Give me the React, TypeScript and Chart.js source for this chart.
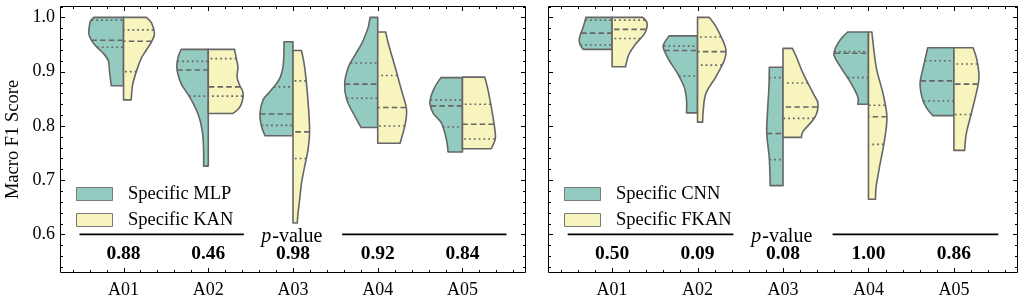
import React, { useEffect, useRef } from 'react';
import { Chart, registerables } from 'chart.js';

Chart.register(...registerables);

// ---------- data ----------
const categories = ['A01', 'A02', 'A03', 'A04', 'A05'];
const yTickValues = [0.6, 0.7, 0.8, 0.9, 1.0];
const yTitle = 'Macro F1 Score';
const pValueLabel = '-value';

// quartiles [q1, median, q3]
const mlpQuartiles = [[0.945, 0.958, 0.995], [0.855, 0.903, 0.919], [0.801, 0.822, 0.872], [0.851, 0.877, 0.916], [0.798, 0.837, 0.848]];
const kanQuartiles = [[0.900, 0.956, 0.977], [0.855, 0.872, 0.924], [0.740, 0.789, 0.883], [0.800, 0.834, 0.893], [0.776, 0.803, 0.840]];
const cnnQuartiles = [[0.949, 0.971, 0.995], [0.892, 0.939, 0.947], [0.738, 0.786, 0.889], [0.889, 0.934, 0.937], [0.846, 0.883, 0.920]];
const fkanQuartiles = [[0.961, 0.978, 0.995], [0.912, 0.937, 0.964], [0.814, 0.835, 0.879], [0.766, 0.817, 0.838], [0.821, 0.877, 0.914]];

// density profiles: [score, scaled density] from max score down to min score
const mlpDensity = [
  [[1.0, 0.35], [0.993, 0.39], [0.982, 0.405], [0.97, 0.41], [0.958, 0.38], [0.946, 0.32], [0.935, 0.245], [0.92, 0.18], [0.9, 0.165], [0.874, 0.145]],
  [[0.941, 0.32], [0.93, 0.35], [0.915, 0.37], [0.9, 0.365], [0.878, 0.32], [0.848, 0.2], [0.817, 0.11], [0.786, 0.067], [0.755, 0.055], [0.726, 0.055]],
  [[0.955, 0.106], [0.93, 0.108], [0.909, 0.118], [0.89, 0.15], [0.878, 0.196], [0.86, 0.29], [0.848, 0.353], [0.823, 0.39], [0.798, 0.37], [0.782, 0.33]],
  [[1.0, 0.09], [0.983, 0.11], [0.97, 0.14], [0.952, 0.188], [0.93, 0.27], [0.909, 0.345], [0.878, 0.39], [0.848, 0.365], [0.817, 0.267], [0.797, 0.196]],
  [[0.889, 0.255], [0.872, 0.325], [0.855, 0.37], [0.841, 0.384], [0.823, 0.345], [0.805, 0.247], [0.774, 0.188], [0.752, 0.169]],
];
const kanDensity = [
  [[1.0, 0.27], [0.99, 0.33], [0.97, 0.365], [0.955, 0.33], [0.94, 0.27], [0.925, 0.21], [0.909, 0.17], [0.878, 0.11], [0.848, 0.09]],
  [[0.941, 0.31], [0.925, 0.33], [0.909, 0.35], [0.89, 0.34], [0.875, 0.37], [0.862, 0.41], [0.845, 0.4], [0.832, 0.36], [0.823, 0.29]],
  [[0.939, 0.1], [0.909, 0.137], [0.848, 0.176], [0.79, 0.196], [0.755, 0.176], [0.725, 0.137], [0.694, 0.1], [0.663, 0.078], [0.639, 0.059], [0.621, 0.05]],
  [[0.973, 0.094], [0.952, 0.125], [0.909, 0.204], [0.866, 0.28], [0.83, 0.34], [0.8, 0.32], [0.768, 0.263]],
  [[0.89, 0.263], [0.866, 0.302], [0.817, 0.36], [0.78, 0.39], [0.765, 0.36], [0.758, 0.34]],
];
const cnnDensity = [
  [[1.0, 0.306], [0.983, 0.337], [0.961, 0.384], [0.949, 0.372], [0.941, 0.337]],
  [[0.966, 0.333], [0.952, 0.392], [0.943, 0.4], [0.921, 0.333], [0.897, 0.235], [0.872, 0.157], [0.848, 0.129], [0.824, 0.129]],
  [[0.908, 0.16], [0.87, 0.165], [0.83, 0.18], [0.786, 0.19], [0.74, 0.16], [0.69, 0.15]],
  [[0.973, 0.243], [0.958, 0.333], [0.937, 0.4], [0.922, 0.38], [0.884, 0.224], [0.854, 0.125], [0.84, 0.125]],
  [[0.944, 0.306], [0.909, 0.357], [0.878, 0.396], [0.848, 0.365], [0.83, 0.306], [0.819, 0.247]],
];
const fkanDensity = [
  [[1.0, 0.36], [0.989, 0.41], [0.97, 0.38], [0.952, 0.28], [0.933, 0.2], [0.915, 0.165], [0.909, 0.157]],
  [[1.0, 0.137], [0.983, 0.216], [0.958, 0.294], [0.94, 0.333], [0.921, 0.314], [0.891, 0.216], [0.86, 0.098], [0.829, 0.067], [0.807, 0.059]],
  [[0.943, 0.11], [0.927, 0.157], [0.897, 0.235], [0.86, 0.353], [0.841, 0.41], [0.816, 0.373], [0.79, 0.235], [0.779, 0.216]],
  [[0.973, 0.04], [0.909, 0.09], [0.86, 0.17], [0.817, 0.216], [0.774, 0.188], [0.725, 0.13], [0.688, 0.09], [0.665, 0.082]],
  [[0.944, 0.224], [0.921, 0.27], [0.89, 0.294], [0.866, 0.27], [0.823, 0.204], [0.786, 0.145], [0.755, 0.125]],
];

const leftPValues = ['0.88', '0.46', '0.98', '0.92', '0.84'];
const rightPValues = ['0.50', '0.09', '0.08', '1.00', '0.86'];
const leftNames = ['Specific MLP', 'Specific KAN'];
const rightNames = ['Specific CNN', 'Specific FKAN'];

// ---------- styles ----------
const FONT = "'Liberation Serif', 'Times New Roman', serif";
const COLORS = ['#93CBC0', '#F7F5BD'];
const EDGE = '#666666';
const X_MIN = -0.75, X_MAX = 4.75, Y_MIN = 0.529, Y_MAX = 1.021;

type Prof = number[][];
interface PanelSpec {
  names: string[];
  quartiles: number[][][];
  density: Prof[][];
  pValues: string[];
  showY: boolean;
  padLeft: number;
  padRight: number;
}

const panels: PanelSpec[] = [
  { names: leftNames, quartiles: [mlpQuartiles, kanQuartiles], density: [mlpDensity, kanDensity], pValues: leftPValues, showY: true, padLeft: 0, padRight: 11 },
  { names: rightNames, quartiles: [cnnQuartiles, fkanQuartiles], density: [cnnDensity, fkanDensity], pValues: rightPValues, showY: false, padLeft: 11, padRight: 7 },
];

function widthAt(prof: Prof, v: number): number {
  for (let i = 0; i < prof.length - 1; i++) {
    const [a, wa] = prof[i];
    const [b, wb] = prof[i + 1];
    if (v <= a && v >= b) {
      const t = a === b ? 0 : (a - v) / (a - b);
      return wa + (wb - wa) * t;
    }
  }
  return v > prof[0][0] ? prof[0][1] : prof[prof.length - 1][1];
}

function splineThrough(ctx: CanvasRenderingContext2D, pts: { x: number; y: number }[]) {
  for (let i = 0; i < pts.length - 1; i++) {
    const p0 = pts[Math.max(0, i - 1)];
    const p1 = pts[i];
    const p2 = pts[i + 1];
    const p3 = pts[Math.min(pts.length - 1, i + 2)];
    const c1x = p1.x + (p2.x - p0.x) / 6;
    const c1y = p1.y + (p2.y - p0.y) / 6;
    const c2x = p2.x - (p3.x - p1.x) / 6;
    const c2y = p2.y - (p3.y - p1.y) / 6;
    ctx.bezierCurveTo(c1x, c1y, c2x, c2y, p2.x, p2.y);
  }
}

function makePlugin(p: PanelSpec) {
  return {
    id: 'violinPlugin',
    afterDraw(chart: any) {
      const ctx: CanvasRenderingContext2D = chart.ctx;
      const xs = chart.scales.x;
      const ys = chart.scales.y;
      const area = chart.chartArea;
      ctx.save();

      // violins
      p.density.forEach((series, si) => {
        const side = si === 0 ? -1 : 1;
        series.forEach((prof, ci) => {
          const cx = xs.getPixelForValue(ci);
          const pts = prof.map(([v, d]) => ({ x: xs.getPixelForValue(ci + side * d), y: ys.getPixelForValue(v) }));
          ctx.beginPath();
          ctx.moveTo(cx, pts[0].y);
          ctx.lineTo(pts[0].x, pts[0].y);
          splineThrough(ctx, pts);
          ctx.lineTo(cx, pts[pts.length - 1].y);
          ctx.closePath();
          ctx.fillStyle = COLORS[si];
          ctx.fill();
          ctx.lineWidth = 1.6;
          ctx.strokeStyle = EDGE;
          ctx.lineJoin = 'round';
          ctx.setLineDash([]);
          ctx.stroke();

          // quartile lines
          const q = p.quartiles[si][ci];
          q.forEach((v, qi) => {
            const w = widthAt(prof, v);
            const y = ys.getPixelForValue(v);
            ctx.beginPath();
            ctx.moveTo(xs.getPixelForValue(ci + side * w), y);
            ctx.lineTo(cx, y);
            ctx.lineWidth = 1.6;
            ctx.strokeStyle = EDGE;
            ctx.setLineDash(qi === 1 ? [5.5, 3.2] : [1.8, 3]);
            ctx.stroke();
          });
        });
      });
      ctx.setLineDash([]);

      // legend
      p.names.forEach((name, i) => {
        const bx = area.left + 16;
        const by = area.top + 181 + i * 26;
        ctx.fillStyle = COLORS[i];
        ctx.fillRect(bx, by, 37, 14);
        ctx.lineWidth = 1;
        ctx.strokeStyle = '#7a7a7a';
        ctx.strokeRect(bx + 0.5, by + 0.5, 36, 13);
        ctx.fillStyle = '#000';
        ctx.font = `18.5px ${FONT}`;
        ctx.textAlign = 'left';
        ctx.textBaseline = 'middle';
        ctx.fillText(name, area.left + 68, by + 7.5);
      });

      // p-value lines and labels
      const lineY = ys.getPixelForValue(0.6);
      ctx.strokeStyle = '#000';
      ctx.lineWidth = 1.8;
      [[-0.52, 1.42], [2.58, 4.52]].forEach(([a, b]) => {
        ctx.beginPath();
        ctx.moveTo(xs.getPixelForValue(a), lineY);
        ctx.lineTo(xs.getPixelForValue(b), lineY);
        ctx.stroke();
      });
      ctx.fillStyle = '#000';
      ctx.textBaseline = 'alphabetic';
      ctx.font = `italic 20px ${FONT}`;
      const pw = ctx.measureText('p').width;
      ctx.font = `20px ${FONT}`;
      const vw = ctx.measureText(pValueLabel).width;
      const startX = xs.getPixelForValue(1.98) - (pw + vw) / 2;
      const baseY = ys.getPixelForValue(0.5864);
      ctx.textAlign = 'left';
      ctx.font = `italic 20px ${FONT}`;
      ctx.fillText('p', startX, baseY);
      ctx.font = `20px ${FONT}`;
      ctx.fillText(pValueLabel, startX + pw + 1, baseY);

      ctx.font = `bold 19.5px ${FONT}`;
      ctx.textAlign = 'center';
      ctx.textBaseline = 'middle';
      p.pValues.forEach((pv, i) => {
        ctx.fillText(pv, xs.getPixelForValue(i), ys.getPixelForValue(0.5637));
      });

      // frame
      ctx.strokeStyle = '#000';
      ctx.lineWidth = 1;
      ctx.strokeRect(area.left + 0.5, area.top + 0.5, area.right - area.left - 1, area.bottom - area.top - 1);

      // inward ticks
      const tick = (x1: number, y1: number, x2: number, y2: number) => {
        ctx.beginPath();
        ctx.moveTo(x1, y1);
        ctx.lineTo(x2, y2);
        ctx.stroke();
      };
      ctx.lineWidth = 1;
      for (let k = -3; k <= 23; k++) {
        const v = k / 5;
        if (v <= X_MIN || v >= X_MAX) continue;
        const isMajor = k % 5 === 0;
        const len = isMajor ? 5 : 3;
        const x = Math.round(xs.getPixelForValue(v)) + 0.5;
        tick(x, area.bottom, x, area.bottom - len);
        tick(x, area.top, x, area.top + len);
      }
      for (let k = 27; k <= 51; k++) {
        const v = k / 50;
        if (v <= Y_MIN || v >= Y_MAX) continue;
        const isMajor = k % 5 === 0;
        const len = isMajor ? 5 : 3;
        const y = Math.round(ys.getPixelForValue(v)) + 0.5;
        tick(area.left, y, area.left + len, y);
        tick(area.right, y, area.right - len, y);
      }
      ctx.restore();
    },
  };
}

function Panel({ spec, left, width }: { spec: PanelSpec; left: number; width: number }) {
  const ref = useRef<HTMLCanvasElement | null>(null);
  useEffect(() => {
    let chart: Chart | null = null;
    let cancelled = false;
    const build = () => {
      if (cancelled || !ref.current) return;
      chart = new Chart(ref.current, {
        type: 'scatter',
        data: { datasets: [] },
        options: {
          animation: false,
          responsive: false,
          maintainAspectRatio: false,
          layout: { padding: { top: 6, right: spec.padRight, left: spec.padLeft, bottom: 0 } },
          plugins: { legend: { display: false }, tooltip: { enabled: false } },
          scales: {
            x: {
              type: 'linear',
              min: X_MIN,
              max: X_MAX,
              grid: { display: false, drawTicks: false },
              border: { display: false },
              afterBuildTicks: (s: any) => {
                s.ticks = categories.map((_, i) => ({ value: i }));
              },
              afterFit: (s: any) => {
                s.height = 29;
                s.paddingLeft = 0;
                s.paddingRight = 0;
              },
              ticks: {
                autoSkip: false,
                maxRotation: 0,
                padding: 6,
                color: '#000',
                font: { family: FONT, size: 18 },
                callback: (v: any) => categories[Number(v)] ?? '',
              },
            },
            y: {
              type: 'linear',
              display: spec.showY,
              min: Y_MIN,
              max: Y_MAX,
              grid: { display: false, drawTicks: false },
              border: { display: false },
              afterBuildTicks: (s: any) => {
                s.ticks = yTickValues.map((v) => ({ value: v }));
              },
              afterFit: (s: any) => {
                s.width = spec.showY ? 60 : 0;
                s.paddingTop = 0;
                s.paddingBottom = 0;
              },
              ticks: {
                padding: 5,
                color: '#000',
                font: { family: FONT, size: 18 },
                callback: (v: any) => Number(v).toFixed(1),
              },
              title: {
                display: true,
                text: yTitle,
                color: '#000',
                font: { family: FONT, size: 18.5 },
                padding: { top: 2, bottom: 0 },
              },
            },
          },
        },
        plugins: [makePlugin(spec)],
      } as any);
    };
    const fonts = (document as any).fonts;
    if (fonts && fonts.load) {
      Promise.all([
        fonts.load(`18px 'Liberation Serif'`),
        fonts.load(`bold 18px 'Liberation Serif'`),
        fonts.load(`italic 18px 'Liberation Serif'`),
      ]).then(build, build);
    } else {
      build();
    }
    return () => {
      cancelled = true;
      if (chart) chart.destroy();
    };
  }, [spec]);
  return (
    <canvas
      ref={ref}
      width={width}
      height={302}
      style={{ position: 'absolute', left, top: 0, width, height: 302 }}
    />
  );
}

export default function App() {
  return (
    <div style={{ position: 'fixed', left: 0, top: 0, width: 1025, height: 302, background: '#fff', overflow: 'hidden' }}>
      <Panel spec={panels[0]} left={0} width={537} />
      <Panel spec={panels[1]} left={537} width={488} />
    </div>
  );
}
